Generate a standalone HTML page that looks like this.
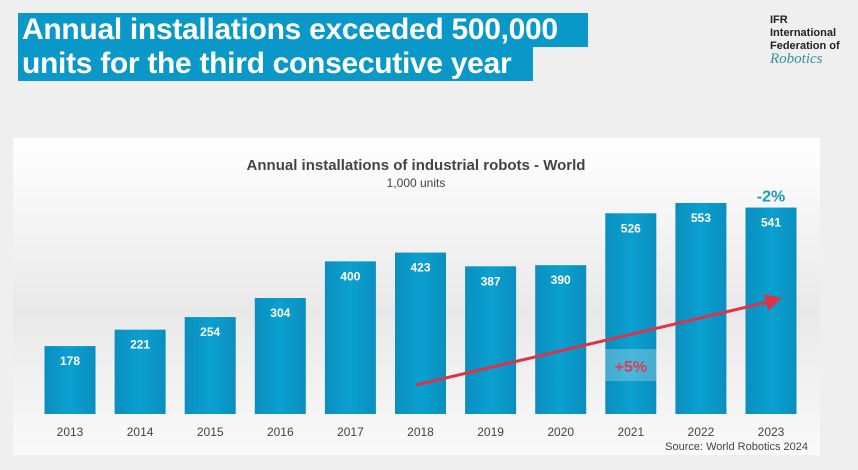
<!DOCTYPE html>
<html><head><meta charset="utf-8"><style>
body{margin:0;width:858px;height:470px;background:#efefef;font-family:"Liberation Sans",sans-serif;position:relative;overflow:hidden}
.t{position:absolute;left:18px;background:#0a98c8;color:#fff;font-weight:bold;font-size:30px;line-height:34px;padding:0 4px;letter-spacing:-0.3px}
#logo{position:absolute;left:770px;top:14px;font-size:11px;line-height:13px;font-weight:bold;color:#222}
</style></head><body>
<div class="t" style="top:13px;width:562px">Annual installations exceeded 500,000</div>
<div class="t" style="top:47px;width:507px">units for the third consecutive year</div>
<div id="logo">IFR<br>International<br>Federation of<br><span style="font-family:'Liberation Serif',serif;font-style:italic;font-weight:normal;color:#3a8fa0;font-size:15px">Robotics</span></div>
<svg id="c" width="858" height="470" style="position:absolute;left:0;top:0">
<defs>
<linearGradient id="pg" x1="0" y1="0" x2="0" y2="1"><stop offset="0" stop-color="#fff"/><stop offset="0.55" stop-color="#e9e9e9"/><stop offset="1" stop-color="#fafafa"/></linearGradient>
<linearGradient id="bg" x1="0" y1="0" x2="1" y2="0"><stop offset="0" stop-color="#0a8fbf"/><stop offset="0.5" stop-color="#0aa0d0"/><stop offset="1" stop-color="#0a8fbf"/></linearGradient>
</defs>
<rect x="13" y="138" width="807" height="317" fill="url(#pg)"/>
<text x="416" y="170" text-anchor="middle" font-size="15" font-weight="bold" fill="#444">Annual installations of industrial robots - World</text>
<text x="416" y="187" text-anchor="middle" font-size="12" fill="#444">1,000 units</text>
<text x="808" y="450" text-anchor="end" font-size="11" fill="#444">Source: World Robotics 2024</text>
<g id="bars"></g>
</svg>
<script>
const years=["2013","2014","2015","2016","2017","2018","2019","2020","2021","2022","2023"];
const values=[178,221,254,304,400,423,387,390,526,553,541];
const ns="http://www.w3.org/2000/svg";
const base=414, k=0.3816, x0=70, step=70.1, bw=51;
const xs=i=>x0+i*step, ys=v=>base-v*k;
const g=document.getElementById('bars');
function mk(t,a){const e=document.createElementNS(ns,t);for(const n in a)e.setAttribute(n,a[n]);return e;}
years.forEach((y,i)=>{
 const r=mk('rect',{x:xs(i)-bw/2,y:ys(values[i]),width:bw,height:values[i]*k,fill:'url(#bg)'});
 
 
 g.appendChild(r);
 const v=mk('text',{x:xs(i),y:ys(values[i])+19,'text-anchor':'middle','font-size':'12','font-weight':'bold',fill:'#fff'});
 v.textContent=values[i];
 
 
 g.appendChild(v);
 const l=mk('text',{x:xs(i),y:436,'text-anchor':'middle','font-size':'12',fill:'#444'});
 l.textContent=y;
 
 
 g.appendChild(l);
});
const bx=mk('rect',{x:xs(8)-bw/2,y:349,width:bw,height:32,fill:'#fff','fill-opacity':'0.25'});


g.appendChild(bx);
const ln=mk('line',{x1:416,y1:385,x2:768,y2:302,stroke:'#d9344a','stroke-width':3});


g.appendChild(ln);
const hd=mk('polygon',{points:'782,298 764,294 768,311',fill:'#d9344a'});


g.appendChild(hd);
const cg=mk('text',{x:xs(8),y:372,'text-anchor':'middle','font-size':'16','font-weight':'bold',fill:'#e03a55'});
cg.textContent='+5%';


g.appendChild(cg);
const d=mk('text',{x:xs(10),y:ys(values[10])-6,'text-anchor':'middle','font-size':'16','font-weight':'bold',fill:'#1a9cc0'});
d.textContent='-2%';


g.appendChild(d);
</script>
</body></html>
